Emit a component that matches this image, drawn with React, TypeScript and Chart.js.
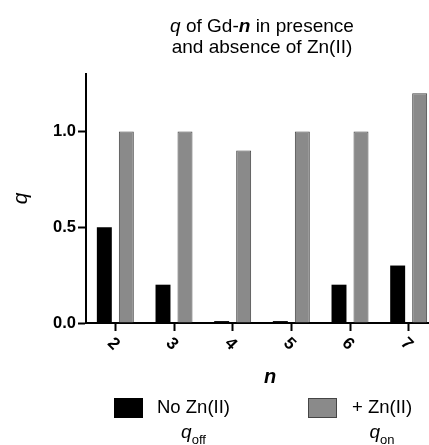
import React, { useEffect, useRef } from "react";
import { Chart, registerables } from "chart.js";

Chart.register(...registerables);

const categories = ["2", "3", "4", "5", "6", "7"];
const qOff = [0.5, 0.2, 0.01, 0.01, 0.2, 0.3];
const qOn = [1.0, 1.0, 0.9, 1.0, 1.0, 1.2];
const yTickValues = [0, 0.5, 1.0];
const seriesNames = ["No Zn(II)", "+ Zn(II)"];
const seriesSubs = ["off", "on"];

const FONT = '"Liberation Sans", Arial, Helvetica, sans-serif';
const OFF_COLOR = "#000000";
const ON_COLOR = "#8a8a8a";
const ON_BORDER = "#454545";

type Run = { t: string; f: string };

function drawRuns(ctx: CanvasRenderingContext2D, runs: Run[], cx: number, y: number) {
  let total = 0;
  const widths = runs.map((r) => {
    ctx.font = `${r.f} ${FONT}`;
    const w = ctx.measureText(r.t).width;
    total += w;
    return w;
  });
  let x = cx - total / 2;
  ctx.textAlign = "left";
  ctx.textBaseline = "alphabetic";
  runs.forEach((r, i) => {
    ctx.font = `${r.f} ${FONT}`;
    ctx.fillText(r.t, x, y);
    x += widths[i];
  });
}

const overlayPlugin = {
  id: "overlay",
  afterDraw(chart: any) {
    const ctx: CanvasRenderingContext2D = chart.ctx;
    const ca = chart.chartArea;
    const xs = chart.scales.x;
    const cx = (ca.left + ca.right) / 2;
    ctx.save();
    ctx.fillStyle = "#000";

    // Title
    drawRuns(
      ctx,
      [
        { t: "q", f: "italic 19px" },
        { t: " of Gd-", f: "19px" },
        { t: "n", f: "italic bold 19px" },
        { t: " in presence", f: "19px" },
      ],
      cx,
      32
    );
    drawRuns(ctx, [{ t: "and absence of Zn(II)", f: "19px" }], cx, 53);

    // X tick labels rotated clockwise
    ctx.font = `bold 17px ${FONT}`;
    ctx.textAlign = "center";
    ctx.textBaseline = "middle";
    categories.forEach((c, i) => {
      const px = xs.getPixelForValue(i);
      ctx.save();
      ctx.translate(px - 2, ca.bottom + 21);
      ctx.rotate(Math.PI / 4);
      ctx.fillText(c, 0, 0);
      ctx.restore();
    });

    // X title
    ctx.font = `italic bold 20px ${FONT}`;
    ctx.fillText("n", cx + 8, ca.bottom + 54);

    // Y title
    ctx.save();
    ctx.translate(21, (ca.top + ca.bottom) / 2);
    ctx.rotate(-Math.PI / 2);
    ctx.font = `italic 21px ${FONT}`;
    ctx.fillText("q", 0, 0);
    ctx.restore();

    // Legend
    const items = [
      { box: 114, text: 157, fill: OFF_COLOR, border: OFF_COLOR },
      { box: 308, text: 352, fill: ON_COLOR, border: ON_BORDER },
    ];
    items.forEach((it, i) => {
      ctx.fillStyle = it.border;
      ctx.fillRect(it.box, 398, 29, 20);
      ctx.fillStyle = it.fill;
      ctx.fillRect(it.box + 1, 399, 27, 18);
      ctx.fillStyle = "#000";
      ctx.font = `18.5px ${FONT}`;
      ctx.textAlign = "left";
      ctx.textBaseline = "middle";
      ctx.fillText(seriesNames[i], it.text, 408);
      const tw = ctx.measureText(seriesNames[i]).width;
      const tc = it.text + tw / 2;
      ctx.font = `italic 19px ${FONT}`;
      const qw = ctx.measureText("q").width;
      ctx.font = `13px ${FONT}`;
      const sw = ctx.measureText(seriesSubs[i]).width;
      const start = tc - (qw + sw) / 2;
      ctx.textBaseline = "alphabetic";
      ctx.font = `italic 19px ${FONT}`;
      ctx.fillText("q", start, 438);
      ctx.font = `13px ${FONT}`;
      ctx.fillText(seriesSubs[i], start + qw, 444);
    });

    ctx.restore();
  },
};

export default function App() {
  const ref = useRef<HTMLCanvasElement>(null);

  useEffect(() => {
    if (!ref.current) return;
    const chart = new Chart(ref.current, {
      type: "bar",
      data: {
        labels: categories,
        datasets: [
          {
            label: seriesNames[0],
            data: qOff,
            backgroundColor: OFF_COLOR,
            borderColor: OFF_COLOR,
            borderWidth: 0,
          },
          {
            label: seriesNames[1],
            data: qOn,
            backgroundColor: ON_COLOR,
            borderColor: ON_BORDER,
            borderWidth: 1,
          },
        ],
      },
      options: {
        animation: false,
        responsive: false,
        devicePixelRatio: 1,
        layout: { padding: { top: 74, right: 2, left: 0, bottom: 0 } },
        plugins: {
          legend: { display: false },
          title: { display: false },
          tooltip: { enabled: false },
        },
        datasets: {
          bar: { categoryPercentage: 0.75, barPercentage: 0.68 },
        },
        scales: {
          x: {
            grid: {
              display: true,
              drawOnChartArea: false,
              drawTicks: true,
              offset: false,
              tickLength: 8,
              tickWidth: 2,
              tickColor: "#000",
            },
            border: { display: true, color: "#000", width: 2 },
            ticks: { display: false },
            afterFit: (s: any) => {
              s.height = 122;
            },
          },
          y: {
            min: 0,
            max: 1.3,
            grid: {
              display: true,
              drawOnChartArea: false,
              drawTicks: true,
              tickLength: 8,
              tickWidth: 2,
              tickColor: "#000",
            },
            border: { display: true, color: "#000", width: 2 },
            afterBuildTicks: (s: any) => {
              s.ticks = yTickValues.map((v) => ({ value: v }));
            },
            ticks: {
              color: "#000",
              padding: 2,
              font: { family: FONT, size: 16.5, weight: "bold" },
              callback: (v: any) => Number(v).toFixed(1),
            },
            afterFit: (s: any) => {
              s.width = 86;
            },
          },
        },
      },
      plugins: [overlayPlugin],
    });
    return () => chart.destroy();
  }, []);

  return (
    <div
      style={{
        position: "fixed",
        left: 0,
        top: 0,
        width: 429,
        height: 445,
        overflow: "hidden",
        background: "#fff",
      }}
    >
      <canvas ref={ref} width={440} height={445} style={{ display: "block" }} />
    </div>
  );
}
